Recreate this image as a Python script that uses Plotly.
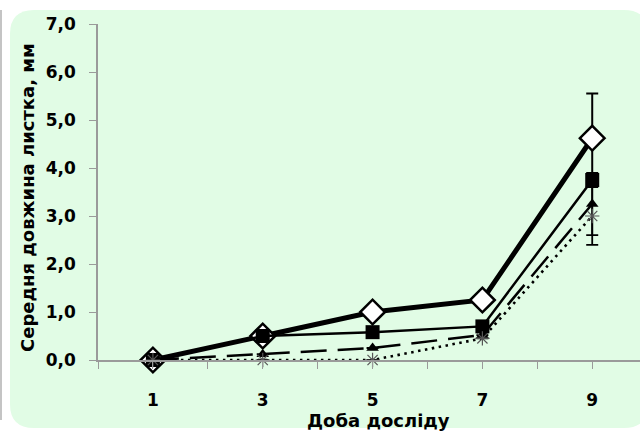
import plotly.graph_objects as go

days = [1, 3, 5, 7, 9]
series_a = [0.0, 0.50, 1.00, 1.25, 4.62]
series_b = [0.0, 0.50, 0.58, 0.70, 3.75]
series_c = [0.0, 0.12, 0.25, 0.52, 3.25]
series_d = [0.0, 0.00, 0.00, 0.45, 3.00]
err_a = [0, 0, 0, 0, 0.93]
err_c = [0, 0, 0, 0, 0.65]
err_d = [0, 0, 0, 0, 0.60]

y_ticks = [0, 1, 2, 3, 4, 5, 6, 7]
x_ticks_all = [0, 1, 2, 3, 4, 5, 6, 7, 8, 9]
x_labels = ["", "1", "", "3", "", "5", "", "7", "", "9"]
x_major = [1, 3, 5, 7, 9]
x_title = "Доба досліду"
y_title = "Середня довжина листка, мм"

FONT = "DejaVu Sans"
AX = "#9a9a9a"
FS = 17

W, H = 640, 433
L, R, T, B = 98, 0, 24, 73
PW, PH = W - L - R, H - T - B


def P(X, Y):
    return (X - L) / PW, (H - B - Y) / PH


def rrect(x0, y0, x1, y1, r):
    def pt(X, Y):
        a, b = P(X, Y)
        return f"{a:.5f},{b:.5f}"
    return (f"M {pt(x0 + r, y0)} L {pt(x1 - r, y0)} Q {pt(x1, y0)} {pt(x1, y0 + r)} "
            f"L {pt(x1, y1 - r)} Q {pt(x1, y1)} {pt(x1 - r, y1)} "
            f"L {pt(x0 + r, y1)} Q {pt(x0, y1)} {pt(x0, y1 - r)} "
            f"L {pt(x0, y0 + r)} Q {pt(x0, y0)} {pt(x0 + r, y0)} Z")


fig = go.Figure()

fig.add_trace(go.Scatter(
    x=days, y=series_a, mode="lines+markers", cliponaxis=False,
    line=dict(color="black", width=5),
    marker=dict(symbol="diamond", size=19, color="white", line=dict(color="black", width=2.5)),
    error_y=dict(type="data", array=err_a, visible=True, color="black", thickness=2, width=6),
    showlegend=False))
fig.add_trace(go.Scatter(
    x=days, y=series_b, mode="lines+markers", cliponaxis=False,
    line=dict(color="black", width=2.5),
    marker=dict(symbol="square", size=14, color="black"),
    showlegend=False))
fig.add_trace(go.Scatter(
    x=days, y=series_c, mode="lines+markers", cliponaxis=False,
    line=dict(color="black", width=2.5, dash="26px,11px"),
    marker=dict(symbol="triangle-up", size=11, color="black"),
    error_y=dict(type="data", array=err_c, visible=True, color="black", thickness=1.8, width=6),
    showlegend=False))
fig.add_trace(go.Scatter(
    x=days, y=series_d, mode="lines+markers", cliponaxis=False,
    line=dict(color="black", width=2.6, dash="2.5px,4.5px"),
    marker=dict(symbol="asterisk-open", size=12, color="#555555", line=dict(color="#555555", width=1.2)),
    error_y=dict(type="data", array=err_d, visible=True, color="black", thickness=1.8, width=6),
    showlegend=False))

shapes = [
    dict(type="path", xref="paper", yref="paper", path=rrect(10, 10, 648, 428, 24),
         fillcolor="#E1FCE5", line=dict(width=0), layer="below"),
    dict(type="line", xref="paper", yref="paper",
         x0=P(1, 0)[0], x1=P(1, 0)[0], y0=P(0, 10)[1], y1=P(0, 420)[1],
         line=dict(color="#b0b0b0", width=1.5), layer="below"),
]

tick_font = dict(family=FONT, size=FS, color="black", weight="bold")
title_font = dict(family=FONT, size=18, color="black", weight="bold")

annotations = [
    dict(text=x_title, xref="paper", yref="paper", x=P(378, 0)[0], y=P(0, 420)[1],
         xanchor="center", yanchor="middle", showarrow=False, font=title_font),
    dict(text=y_title, xref="paper", yref="paper", x=P(28, 0)[0], y=P(0, 198)[1],
         xanchor="center", yanchor="middle", textangle=-90, showarrow=False, font=title_font),
]

fig.update_layout(
    width=W, height=H, autosize=False,
    margin=dict(l=L, r=R, t=T, b=B, pad=0),
    paper_bgcolor="white", plot_bgcolor="rgba(0,0,0,0)",
    separators=", ",
    font=dict(family=FONT, size=FS, color="black"),
    shapes=shapes,
    annotations=annotations,
    xaxis=dict(
        range=[0, 9.87], tickmode="array", tickvals=x_ticks_all, ticktext=x_labels,
        ticks="outside", ticklen=7, tickcolor=AX, tickwidth=1,
        showline=True, linecolor=AX, linewidth=1.5, showgrid=False, zeroline=False,
        tickfont=tick_font,
        ticklabelstandoff=17,
    ),
    yaxis=dict(
        range=[0, 7], tickmode="array", tickvals=y_ticks, tickformat=".1f",
        ticks="outside", ticklen=7, tickcolor=AX, tickwidth=1,
        showline=True, linecolor=AX, linewidth=1.5, showgrid=False, zeroline=False,
        tickfont=tick_font,
        ticklabelstandoff=10,
    ),
    xaxis2=dict(
        overlaying="x", matches="x", tickmode="array", tickvals=x_major,
        ticks="inside", ticklen=7, tickcolor=AX, showticklabels=False,
        showline=False, showgrid=False, zeroline=False, side="bottom", anchor="y",
    ),
    yaxis2=dict(
        overlaying="y", matches="y", tickmode="array", tickvals=y_ticks,
        ticks="inside", ticklen=7, tickcolor=AX, showticklabels=False,
        showline=False, showgrid=False, zeroline=False, side="left", anchor="x",
    ),
)

fig.write_html("out.html")
